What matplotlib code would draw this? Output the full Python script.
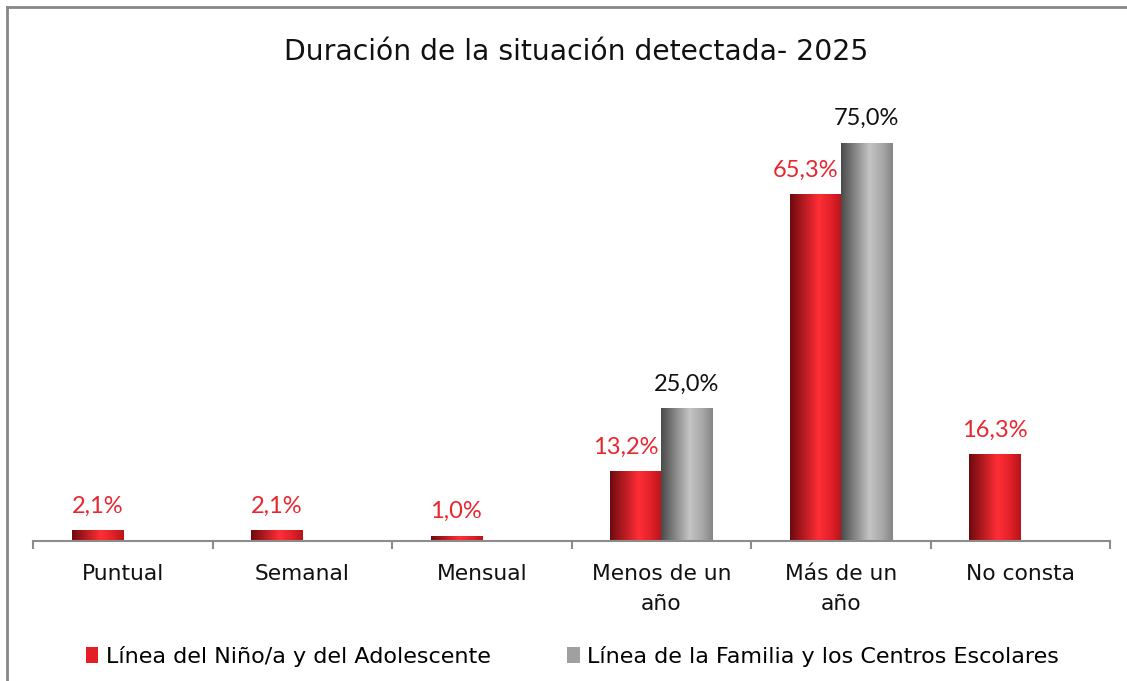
import numpy as np
import matplotlib
matplotlib.use("Agg")
import matplotlib.pyplot as plt
from matplotlib.colors import LinearSegmentedColormap
from matplotlib.lines import Line2D
from matplotlib.patches import Patch

categories = ["Puntual", "Semanal", "Mensual", "Menos de un\naño", "Más de un\naño", "No consta"]
nino = [2.1, 2.1, 1.0, 13.2, 65.3, 16.3]
familia = [None, None, None, 25.0, 75.0, None]
series_names = ["Línea del Niño/a y del Adolescente", "Línea de la Familia y los Centros Escolares"]
title = "Duración de la situación detectada- 2025"

plt.rcParams['font.family'] = ['DejaVu Sans']
label_font = ['Lato', 'DejaVu Sans']

fig = plt.figure(figsize=(11.27, 6.81), dpi=100)
ax = fig.add_axes([0.0293, 0.2056, 0.9557, 0.6241])

x = np.arange(len(categories))
w = 0.285
red_cmap = LinearSegmentedColormap.from_list("r", [(0, "#6e0a0e"), (0.55, "#ff2d36"), (0.8, "#e02028"), (1, "#b8141a")])
gray_cmap = LinearSegmentedColormap.from_list("g", [(0, "#4a4a4a"), (0.55, "#c4c4c4"), (0.8, "#a8a8a8"), (1, "#858585")])

nino_vals = [v if v is not None else 0 for v in nino]
fam_vals = [v if v is not None else 0 for v in familia]
b1 = ax.bar(x - w / 2, nino_vals, w, color="#e31e24", zorder=2)
b2 = ax.bar(x + w / 2, fam_vals, w, color="#a0a0a0", zorder=2)

grad = np.linspace(0, 1, 256).reshape(1, -1)
for bars, cmap, vals in ((b1, red_cmap, nino), (b2, gray_cmap, familia)):
    for p, v in zip(bars, vals):
        if v is None:
            p.set_visible(False)
            continue
        x0, y0 = p.get_x(), p.get_y()
        x1, y1 = x0 + p.get_width(), y0 + p.get_height()
        p.set_facecolor("none")
        p.set_edgecolor("none")
        im = ax.imshow(grad, cmap=cmap, extent=[x0, x1, y0, y1], aspect="auto", zorder=2, interpolation="bilinear")
        im.set_clip_path(p)

for i, (p, v) in enumerate(zip(b1, nino)):
    if v is not None:
        shift = -0.055 if familia[i] is not None else 0
        ax.text(p.get_x() + p.get_width() / 2 + shift, v + 4.5,
                f"{v:.1f}%".replace(".", ","), ha="center", va="center", color="#e8262e",
                fontsize=17, family=label_font)
for p, v in zip(b2, familia):
    if v is not None:
        ax.text(p.get_x() + p.get_width() / 2, v + 4.5, f"{v:.1f}%".replace(".", ","),
                ha="center", va="center", color="#111111", fontsize=17, family=label_font)

ax.set_xlim(-0.5, len(categories) - 0.5)
ax.set_ylim(0, 80)
ax.set_yticks([])
for s in ("top", "right", "left"):
    ax.spines[s].set_visible(False)
ax.spines["bottom"].set_color("#8c8c8c")
ax.spines["bottom"].set_linewidth(1.5)
ax.set_xticks(np.arange(len(categories) + 1) - 0.5)
ax.set_xticklabels([])
ax.tick_params(axis="x", length=6, color="#8c8c8c", width=1.5)
for i, c in enumerate(categories):
    ax.text(i, -4.3, c, ha="center", va="top", fontsize=15.7, color="#111111", linespacing=1.62)

fig.text(0.511, 0.924, title, ha="center", va="center", fontsize=20.3, color="#111111")

handles = [Patch(facecolor="#e31e24", edgecolor="none"), Patch(facecolor="#a0a0a0", edgecolor="none")]
fig.legend(handles, series_names, loc="center", bbox_to_anchor=(0.508, 0.036), ncol=2, frameon=False,
           fontsize=16, handlelength=0.55, handleheight=0.75, handletextpad=0.35, columnspacing=3.45)

fig.add_artist(Line2D([0.0062, 0.0062], [0, 0.99], transform=fig.transFigure, color="#888888", lw=2))
fig.add_artist(Line2D([0.0062, 1], [0.99, 0.99], transform=fig.transFigure, color="#888888", lw=2))

fig.savefig("out.png", dpi=100)
